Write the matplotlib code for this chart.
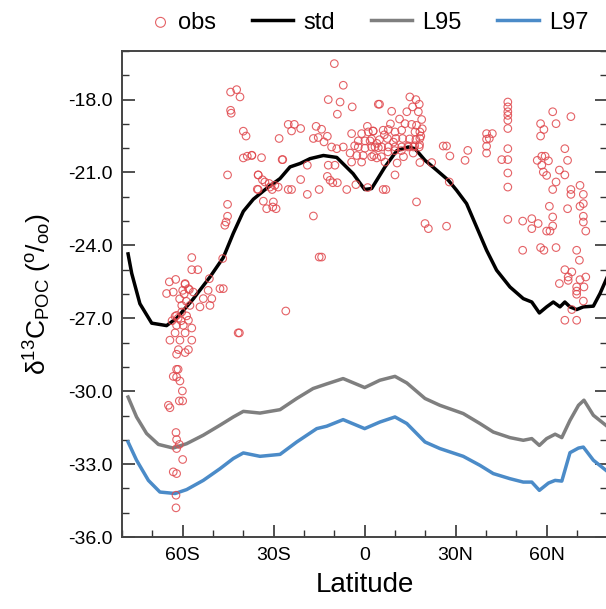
import matplotlib
matplotlib.use("Agg")
import matplotlib.pyplot as plt
from matplotlib.ticker import MultipleLocator, FixedLocator
from matplotlib.legend_handler import HandlerPathCollection
import numpy as np

plt.rcParams['font.family'] = ['Liberation Sans', 'DejaVu Sans']
plt.rcParams['mathtext.fontset'] = 'custom'
plt.rcParams['mathtext.rm'] = 'Liberation Sans'
plt.rcParams['mathtext.it'] = 'Liberation Sans:italic'

# ---- model curves ----
std_lat = [-78, -76.8, -74.1, -70.2, -65.3, -62, -56.5, -51, -46.6, -43.3, -40, -36.7,
           -32.3, -27.9, -24.6, -21.3, -18, -13.6, -9.2, -3.8, 0, 2.3, 6.7, 10.6, 14.4,
           16.6, 19.9, 23.7, 27.6, 30.3, 33.6, 36.9, 40.2, 43.5, 47.9, 52.3, 55.1, 57.6,
           60, 62.2, 64.4, 66, 67.7, 69.9, 72.1, 75.4, 77.6, 80]
std_val = [-24.35, -25.15, -26.4, -27.2, -27.3, -27.0, -26.2, -25.3, -24.5, -23.5, -22.6, -22.1,
           -21.65, -21.25, -20.77, -20.63, -20.43, -20.3, -20.38, -21.05, -21.7, -21.66, -20.77,
           -20.1, -19.95, -20.02, -20.5, -20.9, -21.32, -21.73, -22.28, -23.24, -24.2, -25.02,
           -25.71, -26.19, -26.33, -26.78, -26.53, -26.33, -26.53, -26.33, -26.53, -26.64,
           -26.53, -26.5, -25.98, -25.3]

l95_lat = [-78, -75.2, -71.9, -68, -63.1, -58.7, -53.2, -47.7, -43.3, -40, -34.5, -27.9,
           -22.4, -17, -12.5, -7.1, 0, 5, 10, 13.9, 19.9, 24.8, 32.5, 38, 42.4, 47.9, 52.3,
           55.1, 57.6, 60, 62.8, 65, 67.7, 70.5, 72.3, 75.4, 80]
l95_val = [-30.24, -31.06, -31.74, -32.19, -32.34, -32.16, -31.81, -31.4, -31.06, -30.83,
           -30.9, -30.76, -30.3, -29.89, -29.7, -29.48, -29.85, -29.55, -29.39, -29.66, -30.3,
           -30.58, -30.92, -31.33, -31.68, -31.91, -32.02, -31.95, -32.23, -31.95, -31.77,
           -31.91, -31.2, -30.58, -30.37, -30.99, -31.45]

l97_lat = [-78, -75.2, -71.3, -67.5, -62.5, -58.7, -53.2, -47.7, -43.3, -40, -34.5, -27.9,
           -22.4, -15.8, -12.5, -7.1, 0, 5, 10, 13.9, 19.9, 24.8, 32.5, 38, 42.4, 47.9, 52.3,
           55.1, 57.6, 60.6, 62.8, 65, 67.7, 70.5, 72.1, 75.4, 80]
l97_val = [-32.09, -32.84, -33.67, -34.15, -34.21, -34.05, -33.67, -33.19, -32.77, -32.54,
           -32.68, -32.6, -32.09, -31.54, -31.44, -31.17, -31.54, -31.27, -31.06, -31.33,
           -32.09, -32.36, -32.68, -33.05, -33.39, -33.6, -33.74, -33.74, -34.08, -33.78,
           -33.67, -33.7, -32.53, -32.34, -32.3, -32.84, -33.3]

# ---- observations (latitude, d13C) ----
obs_lat_south = [-44.2, -42.2, -41.1, -44.2, -44.0, -40.0, -39.1, -40.0, -38.7, -37.2, -45.2, -35.1,
                 -35.4, -45.2, -45.2, -45.7, -46.1, -46.8, -57, -57, -55, -64.4, -62.3, -59.2,
                 -51.2, -65.3, -63.1, -60, -57.8, -56.5, -51.6, -47.7, -46.6, -53.2, -50.4, -60.3,
                 -57.6, -54.3, -51, -58.1, -59.2, -62.5, -60.3, -58.1, -62, -62, -59.8, -57,
                 -62.5, -59.2, -64.2, -60.9, -57, -61.4, -62, -58.1, -59.2, -62, -61.5, -63.1,
                 -62, -60.9, -60.1, -61.1, -60, -64.7, -64.2, -62.2, -62, -61.1, -62, -60,
                 -63.1, -62, -62.2, -62.2, -41.7, -41.3, -26.0, -61, -59.5, -58.8, -61.5, -60.5,
                 -58.7, -63.5]
obs_val_south = [-17.69, -17.59, -17.89, -18.44, -18.56, -19.3, -19.5, -20.4, -20.33, -20.3, -21.1, -21.1,
                 -21.69, -22.31, -22.8, -23.04, -23.17, -24.54, -24.5, -25.0, -25.0, -25.5, -25.4, -25.57,
                 -25.37, -25.98, -25.92, -25.85, -25.82, -25.92, -25.85, -25.78, -25.78, -26.19, -26.19, -26.47,
                 -26.47, -26.53, -26.47, -25.78, -25.6, -26.92, -26.74, -27.08, -26.88, -27.29, -27.29, -27.4,
                 -27.6, -27.6, -27.9, -27.9, -27.9, -28.29, -28.48, -28.29, -28.41, -29.1, -29.1, -29.39,
                 -29.42, -29.58, -29.99, -30.4, -30.4, -30.58, -30.68, -31.7, -31.99, -32.19, -32.36, -32.81,
                 -33.32, -33.39, -34.28, -34.8, -27.6, -27.6, -26.7, -26.2, -26.0, -26.3, -27.0, -27.1,
                 -26.9, -27.1]

obs_lat_mid = [-37.2, -34, -27.2, -35.1, -32.9, -35.1, -31.2, -29.6, -33.4, -30.1, -30.3, -32.3,
               -29.2, -25.2, -24.1, -21.1, -18.9, -15, -16.9, -12.3, -11.4, -10.5, -9.0, -12,
               -9.8, -5.9, -2.9, 1.0, -15, -14.2, -28.2, -25.2, -23.2, -24.1, -21.1, -16,
               -14.2, -16.9, -15.3, -12.3, -13.4, -10.9, -9.2, -7.05, -27, -10, -7.05, -12,
               -8.1, -4.1, -9.0, 4.5, -18.9, -33.7, -31.5, -30.5, -28.5]
obs_val_mid = [-20.29, -20.39, -20.47, -21.1, -21.39, -21.7, -21.6, -21.53, -22.18, -22.21, -22.42, -22.49,
               -22.49, -21.7, -21.7, -21.29, -21.9, -21.7, -22.79, -21.16, -21.32, -21.42, -21.42, -20.7,
               -20.7, -21.7, -21.5, -21.62, -24.48, -24.48, -19.6, -19.02, -19.02, -19.29, -19.19, -19.1,
               -19.22, -19.6, -19.56, -19.51, -19.74, -19.95, -20.02, -19.95, -20.47, -16.52, -17.41, -18.0,
               -18.1, -18.3, -18.6, -18.19, -20.7, -21.3, -21.45, -21.7, -21.6]

obs_lat_eq = [-4.3, -1.0, 1.2, 2.8, -2.1, 0.1, 1.8, -2.1, 0.1, 2.3, 4.5, -4.8, -2.6, -0.5, 2.3,
              4.0, -4.3, -1.0, 4.9, 8.9, 14.9, 16.9, 18, 17.7, 18.8, 13.9, 13.3, 15.5, 17.1, 2.8,
              6.1, 7.8, 10, 12.2, 16.6, 18.2, 2.3, 4.9, 7.5, 10.3, 12.5, 14.8, 16.9, 18.2, 3.4,
              5.6, 7.8, 10, 12.2, 14.4, 16.1, 18.0, 3.0, 5.5, 7.7, 9.9, 12.1, 14.3, 16.5, 18.1,
              6.7, 10.7, 10, 18.2, 22.1, 25.9, 27.0, 28.1, 34, 33.1, 27.9, 17.1, 19.9, 21, 27,
              6.1, 7.0, 8.5, 11.5, 15.8, 19, 18.5, 16, 12.8, 9.5, 6.5, 4, 0.9, -3.3]
obs_val_eq = [-19.4, -19.4, -19.33, -19.3, -19.7, -19.7, -19.7, -19.95, -20.0, -19.95, -19.98, -20.2,
              -20.3, -20.3, -20.35, -20.4, -20.57, -20.57, -18.19, -18.48, -17.89, -18.0, -18.19, -18.5,
              -18.82, -18.5, -18.99, -19.02, -19.06, -19.29, -19.26, -19.23, -19.33, -19.26, -19.33,
              -19.33, -19.62, -19.65, -19.6, -19.6, -19.6, -19.62, -19.65, -19.6, -19.95, -19.95,
              -19.95, -19.95, -19.95, -19.95, -19.95, -19.95, -20.3, -20.35, -20.15, -20.1, -20.1,
              -19.9, -19.9, -19.85, -20.57, -20.61, -21.1, -20.59, -20.59, -19.91, -19.91, -20.32,
              -20.09, -20.5, -21.39, -22.21, -23.1, -23.31, -23.21, -21.7, -21.7, -19.0, -18.8,
              -18.3, -19.2, -19.5, -20.2, -20.35, -19.75, -19.45, -19.8, -19.1, -19.9]

obs_lat_north = [40.2, 42.1, 40.2, 41.1, 40.2, 40.2, 45.2, 47.2, 47.2, 47.2, 47.2, 47.2, 47.2,
                 47.2, 47.2, 47.2, 47.2, 47.2, 52.1, 55.1, 55.1, 57.2, 52.1, 58.0, 59.1, 58.0,
                 62, 63.1, 68, 66, 66.9, 56.9, 58.4, 59.5, 60.6, 58.4, 58.9, 60, 64.2, 66,
                 63.1, 62, 68, 68, 71, 72.1, 60.9, 66.9, 71, 72.1, 72.1, 72.1, 72.9, 62, 62,
                 60, 61.1, 58, 59.1, 63.1, 69.9, 70.8, 66, 68.3, 67.1, 67.1, 64.2, 72.9, 71,
                 69.9, 69.9, 72.3, 69.9, 72.1, 68.3, 66, 69.9]
obs_val_north = [-19.4, -19.4, -19.63, -19.6, -19.92, -20.2, -20.47, -20.47, -18.1, -18.3, -18.5,
                 -18.65, -18.85, -19.19, -20.02, -21.02, -21.6, -22.93, -23.0, -22.9, -23.31, -23.1,
                 -24.2, -18.99, -19.23, -19.5, -18.5, -18.99, -18.7, -20.02, -20.5, -20.5, -20.33,
                 -20.33, -20.52, -20.7, -20.98, -21.12, -20.9, -21.1, -21.39, -21.7, -21.7, -21.9,
                 -21.53, -21.9, -22.39, -22.49, -22.39, -22.28, -22.8, -23.04, -23.41, -22.83, -23.2,
                 -23.41, -23.41, -24.09, -24.2, -24.09, -24.2, -24.61, -25.0, -25.09, -25.3, -25.44,
                 -25.57, -25.3, -25.41, -25.71, -25.88, -25.71, -26.01, -26.29, -26.64, -27.08, -27.08]

obs_lat = obs_lat_south + obs_lat_mid + obs_lat_eq + obs_lat_north
obs_val = obs_val_south + obs_val_mid + obs_val_eq + obs_val_north

xtick_pos = [-60, -30, 0, 30, 60]
xtick_lab = ['60S', '30S', '0', '30N', '60N']
ytick_pos = [-36, -33, -30, -27, -24, -21, -18]


class RightMarkerHandler(HandlerPathCollection):
    """Place the single legend marker near the right end of the handle box."""
    def get_xdata(self, legend, xdescent, ydescent, width, height, fontsize):
        x = np.array([-xdescent + width - 0.3 * fontsize])
        return x, x


fig = plt.figure(figsize=(6.06, 6.09), dpi=100)
ax = fig.add_axes([122/606, 72/609, 485.3/606, 486/609])

ax.plot(std_lat, std_val, color='black', lw=2.5, label='std', zorder=2)
ax.plot(l95_lat, l95_val, color='#7f7f7f', lw=2.5, label='L95', zorder=2)
ax.plot(l97_lat, l97_val, color='#4b8bc8', lw=2.5, label='L97', zorder=2)
sc = ax.scatter(obs_lat, obs_val, s=30, facecolors='none', edgecolors='#e0474c',
                linewidths=0.8, alpha=0.85, label='obs', zorder=3)

ax.set_xlim(-80, 80)
ax.set_ylim(-36, -16)
ax.xaxis.set_major_locator(FixedLocator(xtick_pos))
ax.set_xticklabels(xtick_lab)
ax.xaxis.set_minor_locator(MultipleLocator(10))
ax.yaxis.set_major_locator(FixedLocator(ytick_pos))
ax.set_yticklabels(['%.1f' % v for v in ytick_pos])
ax.yaxis.set_minor_locator(MultipleLocator(1))
ax.tick_params(which='both', direction='in', right=True, top=False, color='#333333')
ax.tick_params(which='major', length=9, width=1.2, labelsize=14, pad=7)
ax.tick_params(which='minor', length=5, width=1.0)
for sp in ax.spines.values():
    sp.set_color('#444444')
    sp.set_linewidth(1.4)

ax.set_xlabel('Latitude', fontsize=20, labelpad=6)
ax.set_ylabel('δ$^{13}$C$_{\\rm POC}$ ($^{\\rm o}$/$_{\\rm oo}$)', fontsize=19, labelpad=10)

h, l = ax.get_legend_handles_labels()
order = [3, 0, 1, 2]
fig.legend([h[i] for i in order], [l[i] for i in order], loc='center',
           bbox_to_anchor=(0.59, 0.963), ncol=4, frameon=False, fontsize=17,
           handlelength=1.75, handletextpad=0.45, columnspacing=1.5,
           markerscale=1.3, handler_map={sc: RightMarkerHandler(numpoints=1)})

fig.savefig('out.png', dpi=100)
